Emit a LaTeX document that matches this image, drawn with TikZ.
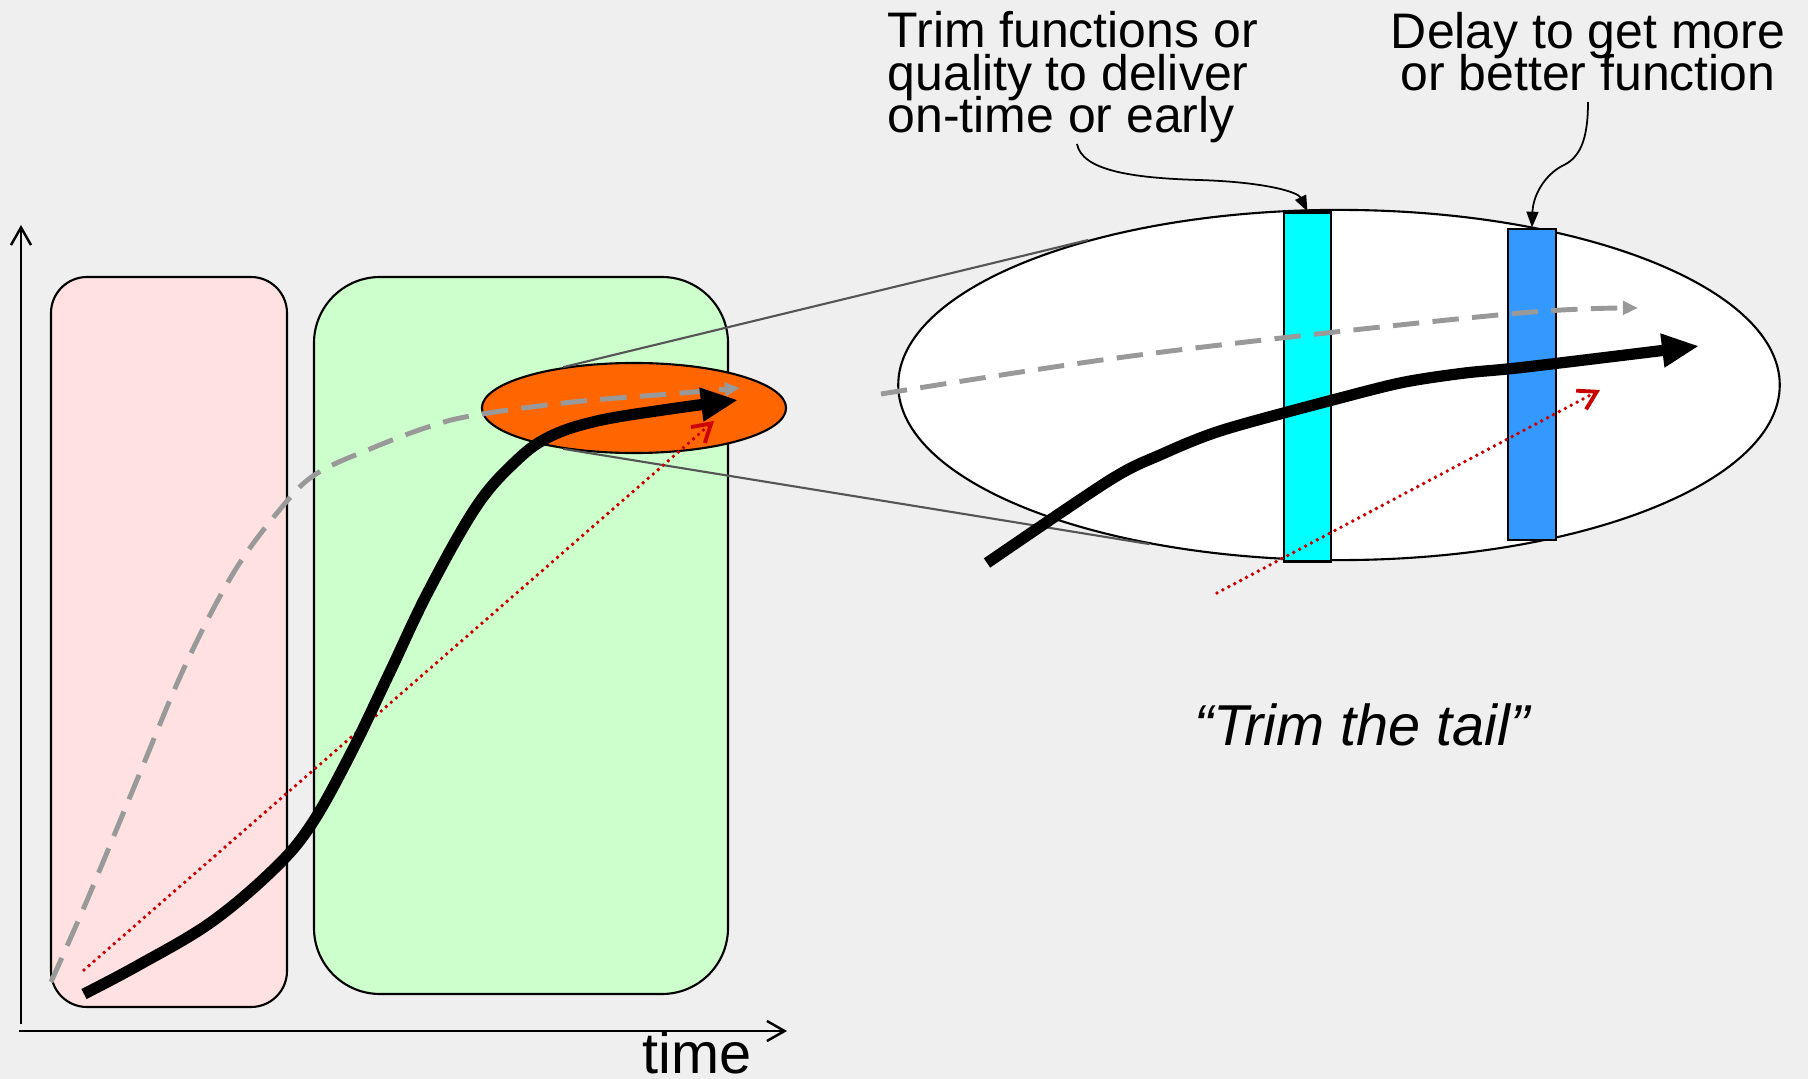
\documentclass[tikz,border=0pt]{standalone}
\usepackage{fontspec}
\setmainfont{Liberation Sans}
\usetikzlibrary{arrows.meta,shapes.geometric}
\setlength{\lineskiplimit}{-20pt}

\begin{document}
\begin{tikzpicture}[x=0.01cm, y=-0.01cm,
  axis/.style={line width=0.7pt, -{Straight Barb[length=5pt,width=5.7pt]}},
  phase/.style={draw=black, line width=0.6pt},
  oval/.style={ellipse, draw=black, line width=0.6pt, inner sep=0pt},
  tailbar/.style={draw=black, line width=0.8pt, inner sep=0pt},
  zoomline/.style={draw=zoomgray, line width=0.6pt},
  actual/.style={line width=3.2pt, -{Triangle[length=10.5pt,width=9pt]}},
  plan/.style={draw=plangray, line width=1.4pt, dash pattern=on 7.5pt off 3.8pt,
    -{Triangle[length=4.3pt,width=3.8pt]}},
  ideal/.style={draw=idealred, line width=1.1pt, line cap=round,
    dash pattern=on 0pt off 1.9pt, -{Straight Barb[length=5pt,width=6pt]}},
  callout/.style={line width=0.5pt, -{Triangle[length=4.5pt,width=3.4pt]}},
  annot/.style={font=\fontsize{14.2}{12.1}\selectfont, inner sep=0pt},
  big/.style={font=\fontsize{16.4}{19}\selectfont, inner sep=0pt}]
\definecolor{bgcolor}{RGB}{239,239,239}
\definecolor{earlycolor}{RGB}{255,225,225}
\definecolor{latecolor}{RGB}{204,255,204}
\definecolor{focuscolor}{RGB}{255,102,0}
\definecolor{trimcolor}{RGB}{0,255,255}
\definecolor{delaycolor}{RGB}{51,153,255}
\definecolor{plangray}{RGB}{153,153,153}
\definecolor{idealred}{RGB}{204,0,0}
\definecolor{zoomgray}{RGB}{85,85,85}
% Canvas
\fill[bgcolor] (0,0) rectangle (1808,1079);
\useasboundingbox (0,0) rectangle (1808,1079);
% Axes
\draw[axis] (21,1024) -- (21,225);
\draw[axis] (19,1031) -- (787,1031);
\node[big, anchor=base] (timelabel) at (697,1073) {time};
% Phases
\draw[phase, fill=earlycolor, rounded corners=0.36cm] (51,277) rectangle (287,1007);
\draw[phase, fill=latecolor, rounded corners=0.66cm] (314,277) rectangle (728,994);
% Detail view and the spot it magnifies
\node[oval, fill=white, minimum width=8.81cm, minimum height=3.5cm] (detail) at (1339,385) {};
\node[oval, fill=focuscolor, minimum width=3.04cm, minimum height=0.9cm] (focus) at (634,408) {};
\foreach \a/\b in {150/150, 210/220}
  \draw[zoomline] (focus.\a) -- (detail.\b);
% Curves over the whole project
\draw[plan] plot[smooth, tension=0.6] coordinates {(51,982) (88,898) (137,780) (185,666)
  (234,572) (282,507) (316,474) (370,449) (428,427) (476,415) (573,402) (670,394) (740,388)};
\draw[ideal] (84,970) -- (714,421);
\draw[actual] plot[smooth, tension=0.6] coordinates {(84,994) (137,966) (210,923) (273,870)
  (311,825) (350,755) (389,674) (428,592) (476,507) (515,462) (549,437) (597,421) (670,409) (738,400)};
% Cut-off points in the tail
\node[tailbar, fill=trimcolor, minimum width=0.47cm, minimum height=3.48cm] (cyanbar) at (1307.5,387) {};
\node[tailbar, fill=delaycolor, minimum width=0.48cm, minimum height=3.11cm] (bluebar) at (1532,384.5) {};
% Magnified curves
\draw[plan] plot[smooth, tension=0.6] coordinates {(881,394) (1102,360) (1308,335) (1532,312) (1638,308)};
\draw[ideal] (1217,593) -- (1600,390);
\draw[actual] plot[smooth, tension=0.5] coordinates {(987,563) (1110,480) (1160,455) (1223,430)
  (1344,397) (1405,382) (1465,373) (1526,367) (1699,346)};
% Labels
\node[big, font=\fontsize{16.4}{19}\selectfont\itshape, anchor=base] (motto) at (1362,745) {“Trim the tail”};
\node[annot, anchor=base west, align=left] (trimtext) at (887,133) {Trim functions or\\quality to deliver\\on-time or early};
\node[annot, anchor=base, align=center] (delaytext) at (1588,91) {Delay to get more\\or better function};
\coordinate (trimfrom) at (1077,144);
\coordinate (delayfrom) at (1588,102);
\draw[callout] (trimfrom) .. controls (1082,170) and (1130,178) .. (1199,180)
  .. controls (1265,182) and (1298,192) .. (cyanbar.north);
\draw[callout] (delayfrom) .. controls (1588,140) and (1580,158) .. (1562,166)
  .. controls (1545,175) and (1533,195) .. (bluebar.north);
\end{tikzpicture}
\end{document}
